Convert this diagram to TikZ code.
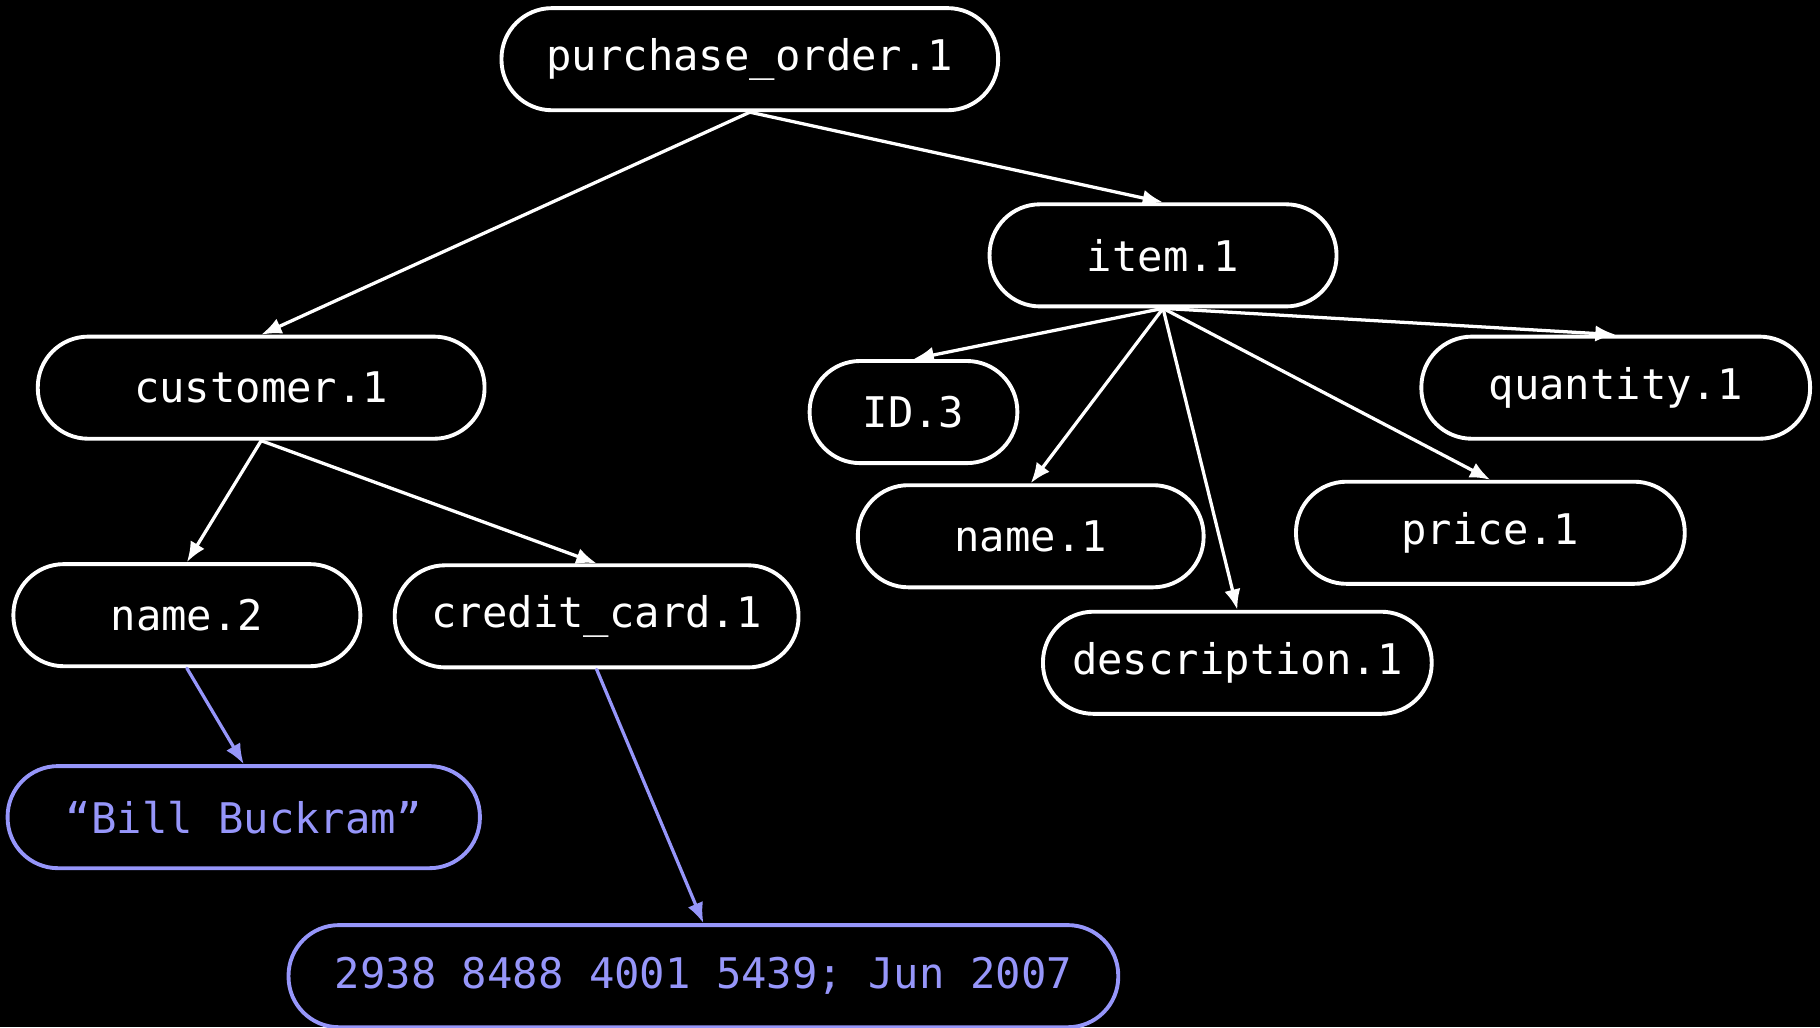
\documentclass[tikz,border=0pt]{standalone}
\usepackage{fontspec}
\newfontfamily\treefont{DejaVu Sans Mono}
\usepackage{tikz}
\usepackage{xcolor}
\usetikzlibrary{arrows.meta}
\definecolor{valblue}{RGB}{150,150,250}

\begin{document}
\begin{tikzpicture}[line cap=round,line join=round,x=0.02cm,y=-0.02cm,
        elem/.style={draw=white,line width=1.9pt,fill=black,text=white,rounded corners=0.87cm,
            minimum height=1.76cm,inner sep=0pt,font=\treefont\fontsize{20.7}{25}\selectfont},
        val/.style={elem,draw=valblue,text=valblue},
        link/.style={draw=white,line width=1.6pt,-{Latex[length=10pt,width=8pt]}},
        vallink/.style={link,draw=valblue,-{Latex[length=10pt,width=8pt,fill=valblue]}}]
                \fill [black] (0,0) rectangle (1568,885);
                \useasboundingbox (0,0) rectangle (1568,885);
                % element nodes
                \node [elem,minimum width=8.56cm] (po) at (646,51) {purchase\_order.1};
                \node [elem,minimum width=5.98cm] (item) at (1002,220) {item.1};
                \node [elem,minimum width=7.7cm] (cust) at (225,334) {customer.1};
                \node [elem,minimum width=3.58cm] (id) at (787,355) {ID.3};
                \node [elem,minimum width=6.7cm] (qty) at (1392,334) {quantity.1};
                \node [elem,minimum width=5.96cm] (nameone) at (888,462) {name.1};
                \node [elem,minimum width=6.7cm] (price) at (1284,459) {price.1};
                \node [elem,minimum width=6.7cm] (desc) at (1066,571) {description.1};
                \node [elem,minimum width=5.98cm] (nametwo) at (161,530) {name.2};
                \node [elem,minimum width=6.96cm] (card) at (514,531) {credit\_card.1};
                % value nodes
                \node [val,minimum width=8.14cm] (bill) at (210,704) {“Bill Buckram”};
                \node [val,minimum width=14.3cm] (cardnum) at (606,841) {2938 8488 4001 5439; Jun 2007};
                % edges
                \draw [link] (po.south) -- (cust.north);
                \draw [link] (po.south) -- (item.north);
                \draw [link] (item.south) -- (id.north);
                \draw [link] (item.south) -- (nameone.north);
                \draw [link] (item.south) -- (desc.north);
                \draw [link] (item.south) -- (price.north);
                \draw [link] (item.south) -- (qty.north);
                \draw [link] (cust.south) -- (nametwo.north);
                \draw [link] (cust.south) -- (card.north);
                \draw [vallink] (nametwo.south) -- (bill.north);
                \draw [vallink] (card.south) -- (cardnum.north);
\end{tikzpicture}
\end{document}
